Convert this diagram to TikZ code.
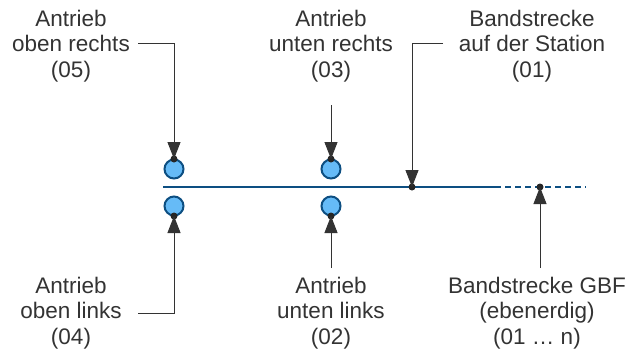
\documentclass[tikz,border=0pt]{standalone}
\usepackage{fontspec}
\setmainfont{Liberation Sans}
\usetikzlibrary{arrows.meta}
\definecolor{belt}{HTML}{0D4F82}
\definecolor{drivefill}{HTML}{66BBF7}
\definecolor{conn}{HTML}{333333}
\definecolor{txt}{HTML}{333333}
\begin{document}
\begin{tikzpicture}[x=1pt,y=-1pt,
  lbl/.style={align=center,inner sep=0pt,text=txt,font=\fontsize{22.5}{25.5}\selectfont},
  drive/.style={circle,draw=belt,fill=drivefill,line width=2pt,minimum size=19pt,inner sep=0pt},
  pin/.style={circle,fill=black!85,minimum size=7pt,inner sep=0pt},
  conn/.style={draw=conn,line width=1pt,-{Triangle[length=17pt,width=13pt]}}]
\useasboundingbox (0,0) rectangle (629,357);
% belt
\coordinate (b0) at (163,187);
\coordinate (b1) at (495,187);
\coordinate (b2) at (586,187);
\draw[belt,line width=2.5pt] (b0) -- (b1);
\draw[belt,line width=2.5pt,dash pattern=on 6pt off 4pt] (b1) -- (b2);
% drives
\node[drive] (d5) at (174,169) {};
\node[drive] (d3) at (331,169) {};
\node[drive] (d4) at (174,206) {};
\node[drive] (d2) at (331,206) {};
\node[pin] (p5) at (174,159) {};
\node[pin] (p3) at (331,159) {};
\node[pin] (p4) at (174,216) {};
\node[pin] (p2) at (331,216) {};
\node[pin] (p1) at (412,187) {};
\node[pin] (pn) at (540,187) {};
% labels
\node[lbl] (l5) at (71,46) {Antrieb\\oben rechts\\(05)};
\node[lbl] (l3) at (331,46) {Antrieb\\unten rechts\\(03)};
\node[lbl] (l1) at (532,46) {Bandstrecke\\auf der Station\\(01)};
\node[lbl] (l4) at (71,313) {Antrieb\\oben links\\(04)};
\node[lbl] (l2) at (331,313) {Antrieb\\unten links\\(02)};
\node[lbl] (ln) at (537,313) {Bandstrecke GBF\\(ebenerdig)\\(01 \dots\ n)};
% connectors
\coordinate (c5) at (138,43);
\coordinate (c3) at (331,105);
\coordinate (c1) at (443,43);
\coordinate (c4) at (138,313);
\coordinate (c2) at (331,268);
\coordinate (cn) at (540,268);
\draw[conn] (c5) -| (p5.center);
\draw[conn] (c3) -- (p3.center);
\draw[conn] (c1) -| (p1.center);
\draw[conn] (c4) -| (p4.center);
\draw[conn] (c2) -- (p2.center);
\draw[conn] (cn) -- (pn.center);
\end{tikzpicture}
\end{document}
